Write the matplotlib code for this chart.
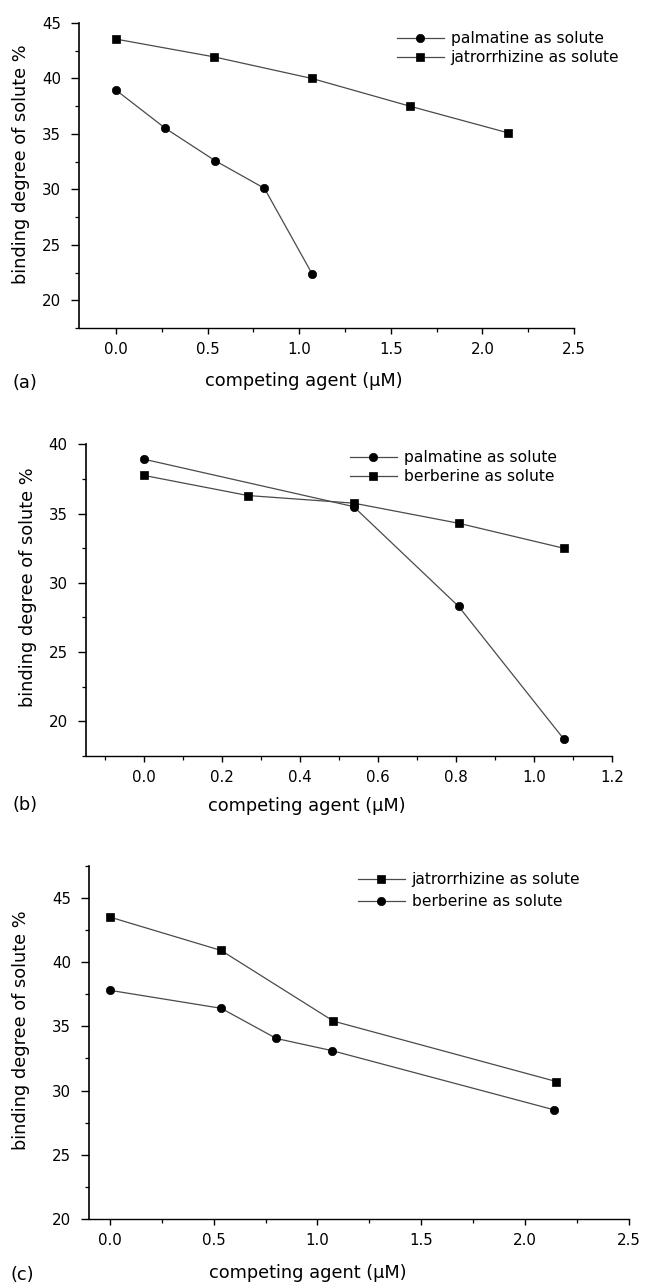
import matplotlib
matplotlib.use("Agg")
import matplotlib.pyplot as plt
from matplotlib.ticker import MultipleLocator

plt.rcParams['font.family'] = ['DejaVu Sans']

# panel (a)
a_palm_x = [0.0, 0.27, 0.54, 0.81, 1.07]
a_palm_y = [38.95, 35.5, 32.6, 30.1, 22.4]
a_jat_x = [0.0, 0.535, 1.07, 1.605, 2.14]
a_jat_y = [43.55, 41.95, 40.0, 37.5, 35.1]

# panel (b)
b_palm_x = [0.0, 0.537, 0.806, 1.075]
b_palm_y = [38.92, 35.5, 28.3, 18.75]
b_berb_x = [0.0, 0.266, 0.537, 0.806, 1.075]
b_berb_y = [37.75, 36.3, 35.75, 34.3, 32.5]

# panel (c)
c_jat_x = [0.0, 0.536, 1.077, 2.15]
c_jat_y = [43.5, 40.9, 35.4, 30.7]
c_berb_x = [0.0, 0.536, 0.802, 1.071, 2.139]
c_berb_y = [37.8, 36.4, 34.05, 33.1, 28.5]

xlabel = 'competing agent (\u03bcM)'
ylabel = 'binding degree of solute %'

line_kw = dict(color='#4a4a4a', lw=0.9, mfc='black', mec='black', mew=0.5)
circ_kw = dict(marker='o', ms=6.0)
sq_kw = dict(marker='s', ms=5.2)

fig = plt.figure(figsize=(6.46, 12.87), dpi=100)


def style_axis(ax, xlim, ylim, xmaj, xmin, ymaj, ymin, xlab_x, xlab_y, ylab_x, ylab_y):
    ax.set_xlim(*xlim)
    ax.set_ylim(*ylim)
    ax.xaxis.set_major_locator(MultipleLocator(xmaj))
    ax.xaxis.set_minor_locator(MultipleLocator(xmin))
    ax.yaxis.set_major_locator(MultipleLocator(ymaj))
    ax.yaxis.set_minor_locator(MultipleLocator(ymin))
    ax.spines['top'].set_visible(False)
    ax.spines['right'].set_visible(False)
    ax.spines['left'].set_linewidth(1.2)
    ax.spines['bottom'].set_linewidth(1.0)
    ax.tick_params(axis='x', which='major', direction='out', length=4, width=1.0, labelsize=10.8, pad=6)
    ax.tick_params(axis='x', which='minor', direction='out', length=3, width=0.9)
    ax.tick_params(axis='y', which='major', direction='out', length=5.5, width=1.0, labelsize=10.8, pad=7.5)
    ax.tick_params(axis='y', which='minor', direction='out', length=3, width=0.9)
    ax.set_xlabel(xlabel, fontsize=12.8)
    ax.set_ylabel(ylabel, fontsize=12.8)
    ax.xaxis.set_label_coords(xlab_x, xlab_y)
    ax.yaxis.set_label_coords(ylab_x, ylab_y)


def add_legend(ax, x, y, spacing):
    ax.legend(loc='upper left', bbox_to_anchor=(x, y), frameon=False, fontsize=11.2,
              handlelength=3.0, handletextpad=0.45, labelspacing=spacing,
              borderpad=0, borderaxespad=0)


# (a)
ax1 = fig.add_axes([0.1229, 0.7451, 0.7656, 0.2370])
ax1.plot(a_palm_x, a_palm_y, label='palmatine as solute', **circ_kw, **line_kw)
ax1.plot(a_jat_x, a_jat_y, label='jatrorrhizine as solute', **sq_kw, **line_kw)
style_axis(ax1, (-0.2, 2.5), (17.5, 45), 0.5, 0.25, 5, 2.5, 0.454, -0.145, -0.1, 0.538)
add_legend(ax1, 0.642, 0.973, 0.26)
fig.text(0.019, 0.7024, '(a)', fontsize=12.8, va='center')

# (b)
ax2 = fig.add_axes([0.1325, 0.4126, 0.8153, 0.2422])
ax2.plot(b_palm_x, b_palm_y, label='palmatine as solute', **circ_kw, **line_kw)
ax2.plot(b_berb_x, b_berb_y, label='berberine as solute', **sq_kw, **line_kw)
style_axis(ax2, (-0.15, 1.2), (17.5, 40), 0.2, 0.1, 5, 2.5, 0.42, -0.132, -0.092, 0.54)
add_legend(ax2, 0.502, 0.981, 0.26)
fig.text(0.019, 0.3745, '(b)', fontsize=12.8, va='center')

# (c)
ax3 = fig.add_axes([0.1378, 0.0528, 0.8359, 0.2746])
ax3.plot(c_jat_x, c_jat_y, label='jatrorrhizine as solute', **sq_kw, **line_kw)
ax3.plot(c_berb_x, c_berb_y, label='berberine as solute', **circ_kw, **line_kw)
style_axis(ax3, (-0.1, 2.5), (20, 47.5), 0.5, 0.25, 5, 2.5, 0.405, -0.128, -0.11, 0.535)
add_legend(ax3, 0.498, 0.982, 0.45)
fig.text(0.016, 0.0093, '(c)', fontsize=12.8, va='center')

fig.savefig('out.png', dpi=100, facecolor='white')
